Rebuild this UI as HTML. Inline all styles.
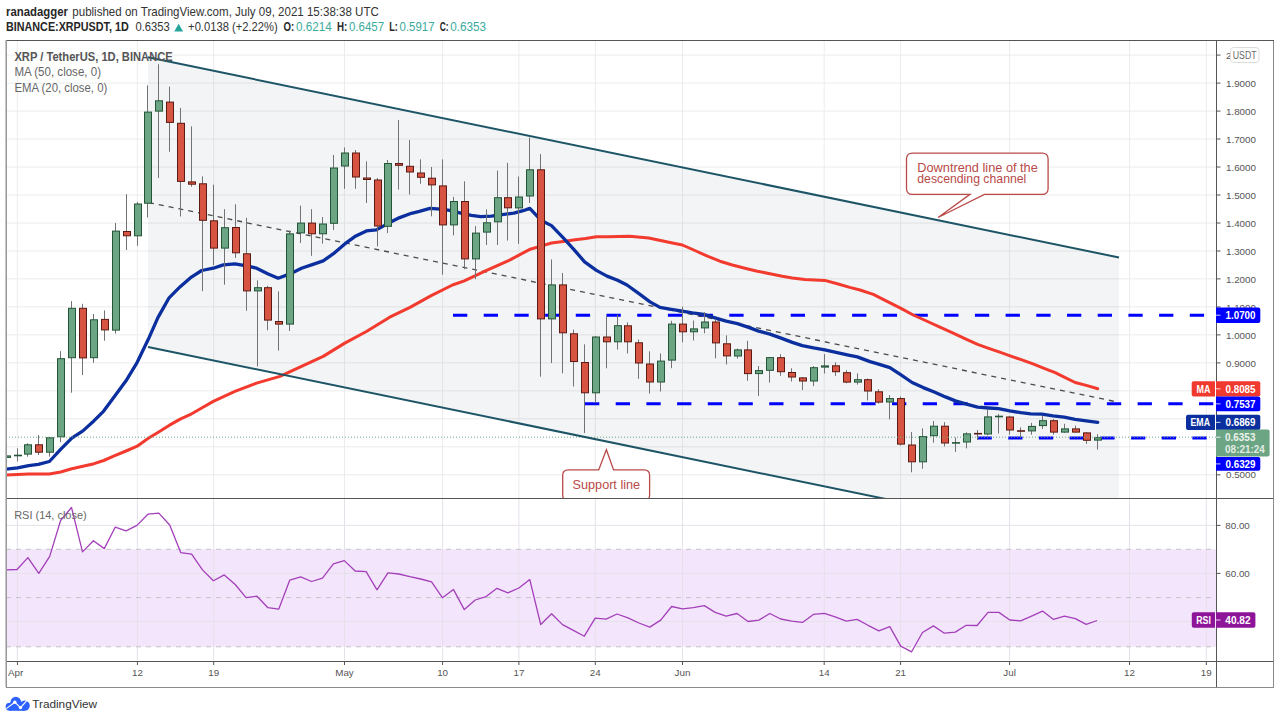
<!DOCTYPE html>
<html><head><meta charset="utf-8"><title>XRPUSDT chart</title>
<style>
html,body{margin:0;padding:0;background:#fff;}
body{width:1280px;height:721px;overflow:hidden;font-family:"Liberation Sans", sans-serif;}
svg{display:block}
text{font-family:"Liberation Sans", sans-serif;}
</style></head><body>
<svg width="1280" height="721" viewBox="0 0 1280 721">
<rect x="0" y="0" width="1280" height="721" fill="#ffffff"/>

<text x="6" y="15.6" font-size="12.2" font-weight="bold" fill="#262626" textLength="62" lengthAdjust="spacingAndGlyphs">ranadagger</text>
<text x="72.3" y="15.6" font-size="12.2" fill="#333" textLength="306.5" lengthAdjust="spacingAndGlyphs">published on TradingView.com, July 09, 2021 15:38:38 UTC</text>
<text x="6" y="31.3" font-size="12" font-weight="bold" fill="#262626" textLength="122.7" lengthAdjust="spacingAndGlyphs">BINANCE:XRPUSDT, 1D</text>
<text x="135.5" y="31.3" font-size="12" fill="#333" textLength="34.3" lengthAdjust="spacingAndGlyphs">0.6353</text>
<polygon points="174.2,31.5 183.1,31.5 178.65,23.8" fill="#26a69a"/>
<text x="188.1" y="31.3" font-size="12" fill="#333" textLength="89.6" lengthAdjust="spacingAndGlyphs">+0.0138 (+2.22%)</text>
<text x="283.6" y="31.3" font-size="12" font-weight="bold" fill="#262626" textLength="10.7" lengthAdjust="spacingAndGlyphs">O:</text>
<text x="296" y="31.3" font-size="12" fill="#3aab9c" textLength="35.7" lengthAdjust="spacingAndGlyphs">0.6214</text>
<text x="336.9" y="31.3" font-size="12" font-weight="bold" fill="#262626" textLength="10.3" lengthAdjust="spacingAndGlyphs">H:</text>
<text x="348.9" y="31.3" font-size="12" fill="#3aab9c" textLength="35.2" lengthAdjust="spacingAndGlyphs">0.6457</text>
<text x="389.3" y="31.3" font-size="12" font-weight="bold" fill="#262626" textLength="8.6" lengthAdjust="spacingAndGlyphs">L:</text>
<text x="399.6" y="31.3" font-size="12" fill="#3aab9c" textLength="34.9" lengthAdjust="spacingAndGlyphs">0.5917</text>
<text x="439.7" y="31.3" font-size="12" font-weight="bold" fill="#262626" textLength="8.9" lengthAdjust="spacingAndGlyphs">C:</text>
<text x="450.3" y="31.3" font-size="12" fill="#3aab9c" textLength="35.8" lengthAdjust="spacingAndGlyphs">0.6353</text>
<defs><clipPath id="pp"><rect x="6.5" y="40.5" width="1209.5" height="457.5"/></clipPath><clipPath id="rp"><rect x="6.5" y="498.5" width="1209.5" height="162"/></clipPath></defs>
<g clip-path="url(#pp)">
<line x1="6" y1="55.1" x2="1216" y2="55.1" stroke="#ececec" stroke-width="1"/>
<line x1="6" y1="83.1" x2="1216" y2="83.1" stroke="#ececec" stroke-width="1"/>
<line x1="6" y1="111.1" x2="1216" y2="111.1" stroke="#ececec" stroke-width="1"/>
<line x1="6" y1="139.0" x2="1216" y2="139.0" stroke="#ececec" stroke-width="1"/>
<line x1="6" y1="167.0" x2="1216" y2="167.0" stroke="#ececec" stroke-width="1"/>
<line x1="6" y1="195.0" x2="1216" y2="195.0" stroke="#ececec" stroke-width="1"/>
<line x1="6" y1="223.0" x2="1216" y2="223.0" stroke="#ececec" stroke-width="1"/>
<line x1="6" y1="251.0" x2="1216" y2="251.0" stroke="#ececec" stroke-width="1"/>
<line x1="6" y1="278.9" x2="1216" y2="278.9" stroke="#ececec" stroke-width="1"/>
<line x1="6" y1="306.9" x2="1216" y2="306.9" stroke="#ececec" stroke-width="1"/>
<line x1="6" y1="334.9" x2="1216" y2="334.9" stroke="#ececec" stroke-width="1"/>
<line x1="6" y1="362.9" x2="1216" y2="362.9" stroke="#ececec" stroke-width="1"/>
<line x1="6" y1="390.9" x2="1216" y2="390.9" stroke="#ececec" stroke-width="1"/>
<line x1="6" y1="418.8" x2="1216" y2="418.8" stroke="#ececec" stroke-width="1"/>
<line x1="6" y1="446.8" x2="1216" y2="446.8" stroke="#ececec" stroke-width="1"/>
<line x1="6" y1="474.8" x2="1216" y2="474.8" stroke="#ececec" stroke-width="1"/>
<line x1="17.4" y1="40" x2="17.4" y2="498" stroke="#ececec" stroke-width="1"/>
<line x1="137.4" y1="40" x2="137.4" y2="498" stroke="#ececec" stroke-width="1"/>
<line x1="213.7" y1="40" x2="213.7" y2="498" stroke="#ececec" stroke-width="1"/>
<line x1="344.5" y1="40" x2="344.5" y2="498" stroke="#ececec" stroke-width="1"/>
<line x1="442.6" y1="40" x2="442.6" y2="498" stroke="#ececec" stroke-width="1"/>
<line x1="518.9" y1="40" x2="518.9" y2="498" stroke="#ececec" stroke-width="1"/>
<line x1="595.3" y1="40" x2="595.3" y2="498" stroke="#ececec" stroke-width="1"/>
<line x1="682.5" y1="40" x2="682.5" y2="498" stroke="#ececec" stroke-width="1"/>
<line x1="824.2" y1="40" x2="824.2" y2="498" stroke="#ececec" stroke-width="1"/>
<line x1="900.6" y1="40" x2="900.6" y2="498" stroke="#ececec" stroke-width="1"/>
<line x1="1009.6" y1="40" x2="1009.6" y2="498" stroke="#ececec" stroke-width="1"/>
<line x1="1129.5" y1="40" x2="1129.5" y2="498" stroke="#ececec" stroke-width="1"/>
<line x1="1206.3" y1="40" x2="1206.3" y2="498" stroke="#ececec" stroke-width="1"/>
<polygon points="148,57.3 1119,257.5 1119,547.1 148,346.9" fill="#1e3c5a" fill-opacity="0.058"/>
<line x1="453" y1="315.2" x2="1216" y2="315.2" stroke="#0000ff" stroke-width="3" stroke-dasharray="14.3 16.4"/>
<line x1="585" y1="403.8" x2="1216" y2="403.8" stroke="#0000ff" stroke-width="3" stroke-dasharray="14.3 16.4"/>
<line x1="977.5" y1="438.0" x2="1216" y2="438.0" stroke="#0000ff" stroke-width="3" stroke-dasharray="14.3 16.4"/>
<line x1="149" y1="202.6" x2="1114" y2="401.3" stroke="#3a3a3a" stroke-width="1.3" stroke-dasharray="5 5" stroke-opacity="0.9"/>
<polyline points="6.0,474.9 28.7,473.9 49.4,473.9 60.6,472.0 71.8,468.8 82.9,466.3 94.1,463.7 103.7,460.5 114.8,455.7 126.0,451.0 137.2,446.2 148.3,438.2 157.9,432.5 169.1,425.4 180.2,419.1 190.0,414.7 201.7,408.0 213.3,401.4 234.9,391.4 256.6,383.1 279.9,376.4 301.5,366.4 323.2,356.4 344.8,343.1 366.4,331.5 389.7,317.2 410.0,307.4 431.2,295.6 452.5,285.0 464.3,280.8 485.5,270.9 509.1,260.3 530.3,249.2 540.9,246.1 551.5,243.0 563.3,241.4 575.1,239.7 585.7,238.6 596.4,236.7 608.2,236.7 629.4,236.2 648.7,238.0 670.0,242.5 682.4,245.0 694.9,250.5 707.4,256.2 719.9,261.2 732.4,265.0 744.9,268.2 757.4,271.2 769.9,273.7 782.3,276.2 792.3,277.9 804.8,279.4 824.8,280.4 837.3,283.7 849.8,287.4 860.0,290.0 873.3,294.4 886.6,301.1 901.0,308.4 913.2,315.0 926.5,321.0 939.9,327.2 953.2,333.2 965.4,338.8 977.6,344.3 988.7,348.3 999.8,352.1 1010.8,356.1 1021.9,359.9 1033.0,363.9 1044.1,368.3 1055.2,372.7 1065.2,377.6 1075.2,382.5 1086.3,385.4 1097.8,388.7" fill="none" stroke="#f33a2e" stroke-width="3" stroke-linejoin="round" stroke-linecap="round"/>
<polyline points="6.0,469.1 17.5,467.9 28.7,465.6 38.3,464.4 49.4,461.5 60.6,449.4 71.8,438.2 82.9,430.9 94.1,420.7 103.7,411.1 114.8,396.1 126.0,380.8 137.2,362.3 148.3,339.3 157.9,317.6 169.1,297.8 180.2,286.7 191.4,277.1 201.7,270.5 213.3,268.2 223.3,264.9 234.9,263.9 246.6,265.9 256.6,268.2 268.2,273.9 278.2,278.2 289.9,273.9 301.5,268.2 311.5,264.9 323.2,260.9 333.1,253.9 344.8,243.9 354.8,236.6 366.4,230.9 376.4,229.9 389.7,222.6 399.7,217.6 411.4,213.3 419.4,211.4 430.0,208.4 440.7,209.1 451.3,210.7 460.7,213.1 471.3,215.4 480.8,216.6 491.4,216.1 502.0,214.7 513.8,213.1 523.2,210.7 529.8,208.4 540.9,220.2 551.5,225.6 563.3,237.8 574.0,249.6 584.6,261.9 596.4,270.4 607.0,276.1 617.6,280.3 627.0,285.0 640.0,294.4 650.0,301.9 660.0,307.4 671.2,309.4 682.4,311.2 692.4,312.9 703.7,314.4 714.9,317.9 726.2,321.2 737.4,323.6 748.6,327.4 758.6,331.1 769.9,334.1 781.1,338.1 792.3,342.4 802.3,345.6 813.6,347.9 824.8,349.9 836.0,352.4 847.3,354.9 857.3,356.9 870.0,361.6 877.7,363.9 889.9,367.6 901.0,374.9 912.1,382.5 923.2,387.6 934.3,392.0 945.4,396.9 955.4,400.9 966.5,404.2 977.6,407.1 988.7,408.0 998.6,408.7 1009.7,410.9 1020.8,412.7 1030.8,413.8 1041.9,414.2 1053.0,415.8 1064.1,417.1 1075.2,419.3 1086.3,420.9 1097.8,422.4" fill="none" stroke="#0b2f9e" stroke-width="3.3" stroke-linejoin="round" stroke-linecap="round"/>
<line x1="6.5" y1="455.0" x2="6.5" y2="458.5" stroke="#737375" stroke-width="1"/>
<rect x="3.5" y="455.9" width="7" height="1.5" fill="#6ba583" stroke="#225437" stroke-width="1"/>
<line x1="17.5" y1="448.3" x2="17.5" y2="461.4" stroke="#737375" stroke-width="1"/>
<rect x="14" y="454.7" width="8" height="1.6" fill="#225437"/>
<line x1="27.5" y1="443.2" x2="27.5" y2="456.7" stroke="#737375" stroke-width="1"/>
<rect x="24.5" y="444.8" width="7" height="9.3" fill="#6ba583" stroke="#225437" stroke-width="1"/>
<line x1="38.5" y1="435.0" x2="38.5" y2="455.0" stroke="#737375" stroke-width="1"/>
<rect x="35.5" y="444.8" width="7" height="7.4" fill="#d75442" stroke="#5b1a13" stroke-width="1"/>
<line x1="49.5" y1="437.0" x2="49.5" y2="456.7" stroke="#737375" stroke-width="1"/>
<rect x="46.5" y="437.8" width="7" height="14.4" fill="#6ba583" stroke="#225437" stroke-width="1"/>
<line x1="60.5" y1="351.1" x2="60.5" y2="442.2" stroke="#737375" stroke-width="1"/>
<rect x="57.5" y="358.7" width="7" height="78.1" fill="#6ba583" stroke="#225437" stroke-width="1"/>
<line x1="71.5" y1="301.1" x2="71.5" y2="392.7" stroke="#737375" stroke-width="1"/>
<rect x="68.5" y="308.3" width="7" height="49.4" fill="#6ba583" stroke="#225437" stroke-width="1"/>
<line x1="82.5" y1="303.8" x2="82.5" y2="375.1" stroke="#737375" stroke-width="1"/>
<rect x="79.5" y="308.3" width="7" height="49.6" fill="#d75442" stroke="#5b1a13" stroke-width="1"/>
<line x1="93.5" y1="314.0" x2="93.5" y2="362.9" stroke="#737375" stroke-width="1"/>
<rect x="90.5" y="319.8" width="7" height="37.9" fill="#6ba583" stroke="#225437" stroke-width="1"/>
<line x1="104.5" y1="310.4" x2="104.5" y2="340.7" stroke="#737375" stroke-width="1"/>
<rect x="101.5" y="319.4" width="7" height="10.5" fill="#d75442" stroke="#5b1a13" stroke-width="1"/>
<line x1="115.5" y1="222.9" x2="115.5" y2="333.7" stroke="#737375" stroke-width="1"/>
<rect x="112.5" y="231.1" width="7" height="99.0" fill="#6ba583" stroke="#225437" stroke-width="1"/>
<line x1="126.5" y1="194.2" x2="126.5" y2="250.0" stroke="#737375" stroke-width="1"/>
<rect x="123.5" y="231.5" width="7" height="4.3" fill="#d75442" stroke="#5b1a13" stroke-width="1"/>
<line x1="137.5" y1="202.0" x2="137.5" y2="245.8" stroke="#737375" stroke-width="1"/>
<rect x="134.5" y="204.0" width="7" height="31.8" fill="#6ba583" stroke="#225437" stroke-width="1"/>
<line x1="147.5" y1="85.3" x2="147.5" y2="217.5" stroke="#737375" stroke-width="1"/>
<rect x="144.5" y="112.1" width="7" height="91.1" fill="#6ba583" stroke="#225437" stroke-width="1"/>
<line x1="158.5" y1="64.2" x2="158.5" y2="177.9" stroke="#737375" stroke-width="1"/>
<rect x="155.5" y="100.8" width="7" height="10.3" fill="#6ba583" stroke="#225437" stroke-width="1"/>
<line x1="169.5" y1="86.6" x2="169.5" y2="151.8" stroke="#737375" stroke-width="1"/>
<rect x="166.5" y="102.1" width="7" height="20.3" fill="#d75442" stroke="#5b1a13" stroke-width="1"/>
<line x1="180.5" y1="107.8" x2="180.5" y2="216.5" stroke="#737375" stroke-width="1"/>
<rect x="177.5" y="123.3" width="7" height="58.1" fill="#d75442" stroke="#5b1a13" stroke-width="1"/>
<line x1="191.5" y1="126.4" x2="191.5" y2="186.7" stroke="#737375" stroke-width="1"/>
<rect x="188.5" y="181.9" width="7" height="2.3" fill="#d75442" stroke="#5b1a13" stroke-width="1"/>
<line x1="202.5" y1="176.4" x2="202.5" y2="291.1" stroke="#737375" stroke-width="1"/>
<rect x="199.5" y="183.8" width="7" height="36.5" fill="#d75442" stroke="#5b1a13" stroke-width="1"/>
<line x1="213.5" y1="184.7" x2="213.5" y2="265.3" stroke="#737375" stroke-width="1"/>
<rect x="210.5" y="220.8" width="7" height="27.3" fill="#d75442" stroke="#5b1a13" stroke-width="1"/>
<line x1="224.5" y1="209.2" x2="224.5" y2="284.7" stroke="#737375" stroke-width="1"/>
<rect x="221.5" y="227.7" width="7" height="20.4" fill="#6ba583" stroke="#225437" stroke-width="1"/>
<line x1="235.5" y1="204.3" x2="235.5" y2="258.0" stroke="#737375" stroke-width="1"/>
<rect x="232.5" y="227.5" width="7" height="25.3" fill="#d75442" stroke="#5b1a13" stroke-width="1"/>
<line x1="246.5" y1="217.8" x2="246.5" y2="310.8" stroke="#737375" stroke-width="1"/>
<rect x="243.5" y="253.8" width="7" height="37.1" fill="#d75442" stroke="#5b1a13" stroke-width="1"/>
<line x1="257.5" y1="280.3" x2="257.5" y2="366.4" stroke="#737375" stroke-width="1"/>
<rect x="254.5" y="287.7" width="7" height="3.2" fill="#6ba583" stroke="#225437" stroke-width="1"/>
<line x1="267.5" y1="285.8" x2="267.5" y2="330.3" stroke="#737375" stroke-width="1"/>
<rect x="264.5" y="287.7" width="7" height="32.4" fill="#d75442" stroke="#5b1a13" stroke-width="1"/>
<line x1="278.5" y1="291.4" x2="278.5" y2="350.6" stroke="#737375" stroke-width="1"/>
<rect x="275.5" y="321.5" width="7" height="2.6" fill="#d75442" stroke="#5b1a13" stroke-width="1"/>
<line x1="289.5" y1="230.5" x2="289.5" y2="331.0" stroke="#737375" stroke-width="1"/>
<rect x="286.5" y="233.9" width="7" height="90.2" fill="#6ba583" stroke="#225437" stroke-width="1"/>
<line x1="300.5" y1="205.7" x2="300.5" y2="243.0" stroke="#737375" stroke-width="1"/>
<rect x="297.5" y="223.1" width="7" height="9.8" fill="#6ba583" stroke="#225437" stroke-width="1"/>
<line x1="311.5" y1="209.2" x2="311.5" y2="255.8" stroke="#737375" stroke-width="1"/>
<rect x="308.5" y="223.1" width="7" height="10.7" fill="#d75442" stroke="#5b1a13" stroke-width="1"/>
<line x1="322.5" y1="217.0" x2="322.5" y2="243.6" stroke="#737375" stroke-width="1"/>
<rect x="319.5" y="224.0" width="7" height="9.8" fill="#6ba583" stroke="#225437" stroke-width="1"/>
<line x1="333.5" y1="155.0" x2="333.5" y2="230.0" stroke="#737375" stroke-width="1"/>
<rect x="330.5" y="168.0" width="7" height="55.3" fill="#6ba583" stroke="#225437" stroke-width="1"/>
<line x1="344.5" y1="147.5" x2="344.5" y2="188.8" stroke="#737375" stroke-width="1"/>
<rect x="341.5" y="153.0" width="7" height="13.0" fill="#6ba583" stroke="#225437" stroke-width="1"/>
<line x1="355.5" y1="150.0" x2="355.5" y2="188.8" stroke="#737375" stroke-width="1"/>
<rect x="352.5" y="153.0" width="7" height="24.0" fill="#d75442" stroke="#5b1a13" stroke-width="1"/>
<line x1="366.5" y1="161.3" x2="366.5" y2="203.0" stroke="#737375" stroke-width="1"/>
<rect x="363.5" y="178.0" width="7" height="1.5" fill="#d75442" stroke="#5b1a13" stroke-width="1"/>
<line x1="377.5" y1="178.0" x2="377.5" y2="246.3" stroke="#737375" stroke-width="1"/>
<rect x="374.5" y="180.0" width="7" height="46.0" fill="#d75442" stroke="#5b1a13" stroke-width="1"/>
<line x1="387.5" y1="160.0" x2="387.5" y2="233.0" stroke="#737375" stroke-width="1"/>
<rect x="384.5" y="163.5" width="7" height="62.8" fill="#6ba583" stroke="#225437" stroke-width="1"/>
<line x1="398.5" y1="120.0" x2="398.5" y2="189.5" stroke="#737375" stroke-width="1"/>
<rect x="395.5" y="163.5" width="7" height="1.8" fill="#d75442" stroke="#5b1a13" stroke-width="1"/>
<line x1="409.5" y1="140.0" x2="409.5" y2="194.5" stroke="#737375" stroke-width="1"/>
<rect x="406.5" y="166.3" width="7" height="5.7" fill="#d75442" stroke="#5b1a13" stroke-width="1"/>
<line x1="420.5" y1="159.3" x2="420.5" y2="183.8" stroke="#737375" stroke-width="1"/>
<rect x="417.5" y="173.0" width="7" height="4.3" fill="#d75442" stroke="#5b1a13" stroke-width="1"/>
<line x1="431.5" y1="167.0" x2="431.5" y2="216.3" stroke="#737375" stroke-width="1"/>
<rect x="428.5" y="178.2" width="7" height="6.7" fill="#d75442" stroke="#5b1a13" stroke-width="1"/>
<line x1="442.5" y1="159.4" x2="442.5" y2="274.6" stroke="#737375" stroke-width="1"/>
<rect x="439.5" y="185.9" width="7" height="39.0" fill="#d75442" stroke="#5b1a13" stroke-width="1"/>
<line x1="453.5" y1="196.9" x2="453.5" y2="235.4" stroke="#737375" stroke-width="1"/>
<rect x="450.5" y="201.5" width="7" height="23.4" fill="#6ba583" stroke="#225437" stroke-width="1"/>
<line x1="464.5" y1="181.3" x2="464.5" y2="269.2" stroke="#737375" stroke-width="1"/>
<rect x="461.5" y="201.5" width="7" height="57.4" fill="#d75442" stroke="#5b1a13" stroke-width="1"/>
<line x1="475.5" y1="226.1" x2="475.5" y2="279.2" stroke="#737375" stroke-width="1"/>
<rect x="472.5" y="233.1" width="7" height="25.8" fill="#6ba583" stroke="#225437" stroke-width="1"/>
<line x1="486.5" y1="209.4" x2="486.5" y2="245.0" stroke="#737375" stroke-width="1"/>
<rect x="483.5" y="222.8" width="7" height="9.3" fill="#6ba583" stroke="#225437" stroke-width="1"/>
<line x1="497.5" y1="170.6" x2="497.5" y2="245.0" stroke="#737375" stroke-width="1"/>
<rect x="494.5" y="197.7" width="7" height="24.1" fill="#6ba583" stroke="#225437" stroke-width="1"/>
<line x1="507.5" y1="162.8" x2="507.5" y2="240.6" stroke="#737375" stroke-width="1"/>
<rect x="504.5" y="197.7" width="7" height="10.1" fill="#d75442" stroke="#5b1a13" stroke-width="1"/>
<line x1="518.5" y1="176.5" x2="518.5" y2="243.8" stroke="#737375" stroke-width="1"/>
<rect x="515.5" y="197.0" width="7" height="10.9" fill="#6ba583" stroke="#225437" stroke-width="1"/>
<line x1="529.5" y1="137.6" x2="529.5" y2="203.0" stroke="#737375" stroke-width="1"/>
<rect x="526.5" y="169.8" width="7" height="26.2" fill="#6ba583" stroke="#225437" stroke-width="1"/>
<line x1="540.5" y1="154.1" x2="540.5" y2="376.7" stroke="#737375" stroke-width="1"/>
<rect x="537.5" y="169.8" width="7" height="149.1" fill="#d75442" stroke="#5b1a13" stroke-width="1"/>
<line x1="551.5" y1="259.4" x2="551.5" y2="363.1" stroke="#737375" stroke-width="1"/>
<rect x="548.5" y="284.9" width="7" height="34.0" fill="#6ba583" stroke="#225437" stroke-width="1"/>
<line x1="562.5" y1="272.9" x2="562.5" y2="373.3" stroke="#737375" stroke-width="1"/>
<rect x="559.5" y="284.9" width="7" height="47.9" fill="#d75442" stroke="#5b1a13" stroke-width="1"/>
<line x1="573.5" y1="329.6" x2="573.5" y2="386.5" stroke="#737375" stroke-width="1"/>
<rect x="570.5" y="333.8" width="7" height="27.7" fill="#d75442" stroke="#5b1a13" stroke-width="1"/>
<line x1="584.5" y1="344.3" x2="584.5" y2="433.0" stroke="#737375" stroke-width="1"/>
<rect x="581.5" y="362.5" width="7" height="30.3" fill="#d75442" stroke="#5b1a13" stroke-width="1"/>
<line x1="595.5" y1="336.0" x2="595.5" y2="402.9" stroke="#737375" stroke-width="1"/>
<rect x="592.5" y="337.0" width="7" height="55.8" fill="#6ba583" stroke="#225437" stroke-width="1"/>
<line x1="606.5" y1="315.5" x2="606.5" y2="368.3" stroke="#737375" stroke-width="1"/>
<rect x="603.5" y="337.0" width="7" height="4.8" fill="#d75442" stroke="#5b1a13" stroke-width="1"/>
<line x1="617.5" y1="314.6" x2="617.5" y2="349.5" stroke="#737375" stroke-width="1"/>
<rect x="614.5" y="325.7" width="7" height="16.1" fill="#6ba583" stroke="#225437" stroke-width="1"/>
<line x1="627.5" y1="322.3" x2="627.5" y2="353.4" stroke="#737375" stroke-width="1"/>
<rect x="624.5" y="325.8" width="7" height="16.0" fill="#d75442" stroke="#5b1a13" stroke-width="1"/>
<line x1="638.5" y1="339.5" x2="638.5" y2="378.8" stroke="#737375" stroke-width="1"/>
<rect x="635.5" y="342.8" width="7" height="20.2" fill="#d75442" stroke="#5b1a13" stroke-width="1"/>
<line x1="649.5" y1="351.3" x2="649.5" y2="393.6" stroke="#737375" stroke-width="1"/>
<rect x="646.5" y="364.0" width="7" height="18.0" fill="#d75442" stroke="#5b1a13" stroke-width="1"/>
<line x1="660.5" y1="353.4" x2="660.5" y2="391.5" stroke="#737375" stroke-width="1"/>
<rect x="657.5" y="361.1" width="7" height="20.9" fill="#6ba583" stroke="#225437" stroke-width="1"/>
<line x1="671.5" y1="320.8" x2="671.5" y2="368.2" stroke="#737375" stroke-width="1"/>
<rect x="668.5" y="324.1" width="7" height="36.0" fill="#6ba583" stroke="#225437" stroke-width="1"/>
<line x1="682.5" y1="306.7" x2="682.5" y2="342.3" stroke="#737375" stroke-width="1"/>
<rect x="679.5" y="324.1" width="7" height="7.7" fill="#d75442" stroke="#5b1a13" stroke-width="1"/>
<line x1="693.5" y1="320.5" x2="693.5" y2="340.5" stroke="#737375" stroke-width="1"/>
<rect x="690.5" y="328.9" width="7" height="2.9" fill="#6ba583" stroke="#225437" stroke-width="1"/>
<line x1="704.5" y1="312.2" x2="704.5" y2="333.3" stroke="#737375" stroke-width="1"/>
<rect x="701.5" y="322.0" width="7" height="5.9" fill="#6ba583" stroke="#225437" stroke-width="1"/>
<line x1="715.5" y1="319.4" x2="715.5" y2="358.3" stroke="#737375" stroke-width="1"/>
<rect x="712.5" y="322.0" width="7" height="20.9" fill="#d75442" stroke="#5b1a13" stroke-width="1"/>
<line x1="726.5" y1="335.4" x2="726.5" y2="364.5" stroke="#737375" stroke-width="1"/>
<rect x="723.5" y="343.8" width="7" height="12.1" fill="#d75442" stroke="#5b1a13" stroke-width="1"/>
<line x1="737.5" y1="348.6" x2="737.5" y2="358.6" stroke="#737375" stroke-width="1"/>
<rect x="734.5" y="349.9" width="7" height="6.1" fill="#6ba583" stroke="#225437" stroke-width="1"/>
<line x1="747.5" y1="340.8" x2="747.5" y2="380.8" stroke="#737375" stroke-width="1"/>
<rect x="744.5" y="349.9" width="7" height="23.7" fill="#d75442" stroke="#5b1a13" stroke-width="1"/>
<line x1="758.5" y1="366.0" x2="758.5" y2="395.9" stroke="#737375" stroke-width="1"/>
<rect x="755.5" y="370.6" width="7" height="3.0" fill="#6ba583" stroke="#225437" stroke-width="1"/>
<line x1="769.5" y1="357.0" x2="769.5" y2="382.6" stroke="#737375" stroke-width="1"/>
<rect x="766.5" y="357.6" width="7" height="12.7" fill="#6ba583" stroke="#225437" stroke-width="1"/>
<line x1="780.5" y1="354.2" x2="780.5" y2="375.8" stroke="#737375" stroke-width="1"/>
<rect x="777.5" y="357.7" width="7" height="14.0" fill="#d75442" stroke="#5b1a13" stroke-width="1"/>
<line x1="791.5" y1="368.3" x2="791.5" y2="381.5" stroke="#737375" stroke-width="1"/>
<rect x="788.5" y="372.5" width="7" height="4.5" fill="#d75442" stroke="#5b1a13" stroke-width="1"/>
<line x1="802.5" y1="377.0" x2="802.5" y2="390.0" stroke="#737375" stroke-width="1"/>
<rect x="799.5" y="377.9" width="7" height="3.1" fill="#d75442" stroke="#5b1a13" stroke-width="1"/>
<line x1="813.5" y1="366.1" x2="813.5" y2="386.1" stroke="#737375" stroke-width="1"/>
<rect x="810.5" y="367.7" width="7" height="13.3" fill="#6ba583" stroke="#225437" stroke-width="1"/>
<line x1="824.5" y1="354.1" x2="824.5" y2="373.5" stroke="#737375" stroke-width="1"/>
<rect x="821.5" y="365.9" width="7" height="1.2" fill="#6ba583" stroke="#225437" stroke-width="1"/>
<line x1="835.5" y1="362.3" x2="835.5" y2="375.9" stroke="#737375" stroke-width="1"/>
<rect x="832.5" y="365.8" width="7" height="5.9" fill="#d75442" stroke="#5b1a13" stroke-width="1"/>
<line x1="846.5" y1="370.2" x2="846.5" y2="383.3" stroke="#737375" stroke-width="1"/>
<rect x="843.5" y="372.7" width="7" height="9.4" fill="#d75442" stroke="#5b1a13" stroke-width="1"/>
<line x1="857.5" y1="373.3" x2="857.5" y2="384.6" stroke="#737375" stroke-width="1"/>
<rect x="854.5" y="379.7" width="7" height="2.4" fill="#6ba583" stroke="#225437" stroke-width="1"/>
<line x1="867.5" y1="378.5" x2="867.5" y2="400.5" stroke="#737375" stroke-width="1"/>
<rect x="864.5" y="379.7" width="7" height="11.3" fill="#d75442" stroke="#5b1a13" stroke-width="1"/>
<line x1="878.5" y1="389.2" x2="878.5" y2="403.7" stroke="#737375" stroke-width="1"/>
<rect x="875.5" y="391.8" width="7" height="10.3" fill="#d75442" stroke="#5b1a13" stroke-width="1"/>
<line x1="889.5" y1="395.0" x2="889.5" y2="419.3" stroke="#737375" stroke-width="1"/>
<rect x="886.5" y="398.6" width="7" height="3.4" fill="#6ba583" stroke="#225437" stroke-width="1"/>
<line x1="900.5" y1="396.5" x2="900.5" y2="445.5" stroke="#737375" stroke-width="1"/>
<rect x="897.5" y="398.6" width="7" height="45.5" fill="#d75442" stroke="#5b1a13" stroke-width="1"/>
<line x1="911.5" y1="432.1" x2="911.5" y2="472.3" stroke="#737375" stroke-width="1"/>
<rect x="908.5" y="445.0" width="7" height="16.8" fill="#d75442" stroke="#5b1a13" stroke-width="1"/>
<line x1="922.5" y1="428.4" x2="922.5" y2="468.8" stroke="#737375" stroke-width="1"/>
<rect x="919.5" y="436.6" width="7" height="25.2" fill="#6ba583" stroke="#225437" stroke-width="1"/>
<line x1="933.5" y1="421.0" x2="933.5" y2="442.7" stroke="#737375" stroke-width="1"/>
<rect x="930.5" y="426.2" width="7" height="9.5" fill="#6ba583" stroke="#225437" stroke-width="1"/>
<line x1="944.5" y1="422.1" x2="944.5" y2="446.5" stroke="#737375" stroke-width="1"/>
<rect x="941.5" y="426.2" width="7" height="16.8" fill="#d75442" stroke="#5b1a13" stroke-width="1"/>
<line x1="955.5" y1="437.6" x2="955.5" y2="451.9" stroke="#737375" stroke-width="1"/>
<rect x="952" y="442.1" width="8" height="1.6" fill="#225437"/>
<line x1="966.5" y1="432.3" x2="966.5" y2="448.4" stroke="#737375" stroke-width="1"/>
<rect x="963.5" y="433.9" width="7" height="8.1" fill="#6ba583" stroke="#225437" stroke-width="1"/>
<line x1="977.5" y1="430.1" x2="977.5" y2="440.0" stroke="#737375" stroke-width="1"/>
<rect x="974" y="432.9" width="8" height="1.6" fill="#5b1a13"/>
<line x1="987.5" y1="409.1" x2="987.5" y2="435.4" stroke="#737375" stroke-width="1"/>
<rect x="984.5" y="416.9" width="7" height="17.1" fill="#6ba583" stroke="#225437" stroke-width="1"/>
<line x1="998.5" y1="414.1" x2="998.5" y2="433.5" stroke="#737375" stroke-width="1"/>
<rect x="995" y="415.7" width="8" height="1.6" fill="#225437"/>
<line x1="1009.5" y1="416.0" x2="1009.5" y2="434.7" stroke="#737375" stroke-width="1"/>
<rect x="1006.5" y="417.0" width="7" height="13.0" fill="#d75442" stroke="#5b1a13" stroke-width="1"/>
<line x1="1020.5" y1="427.4" x2="1020.5" y2="437.3" stroke="#737375" stroke-width="1"/>
<rect x="1017" y="430.2" width="8" height="1.6" fill="#5b1a13"/>
<line x1="1031.5" y1="422.8" x2="1031.5" y2="434.7" stroke="#737375" stroke-width="1"/>
<rect x="1028.5" y="426.4" width="7" height="4.5" fill="#6ba583" stroke="#225437" stroke-width="1"/>
<line x1="1042.5" y1="416.0" x2="1042.5" y2="429.0" stroke="#737375" stroke-width="1"/>
<rect x="1039.5" y="420.7" width="7" height="4.9" fill="#6ba583" stroke="#225437" stroke-width="1"/>
<line x1="1053.5" y1="419.1" x2="1053.5" y2="434.7" stroke="#737375" stroke-width="1"/>
<rect x="1050.5" y="420.7" width="7" height="11.4" fill="#d75442" stroke="#5b1a13" stroke-width="1"/>
<line x1="1064.5" y1="423.8" x2="1064.5" y2="432.8" stroke="#737375" stroke-width="1"/>
<rect x="1061.5" y="428.9" width="7" height="3.2" fill="#6ba583" stroke="#225437" stroke-width="1"/>
<line x1="1075.5" y1="425.6" x2="1075.5" y2="432.8" stroke="#737375" stroke-width="1"/>
<rect x="1072.5" y="428.9" width="7" height="3.2" fill="#d75442" stroke="#5b1a13" stroke-width="1"/>
<line x1="1086.5" y1="432.0" x2="1086.5" y2="443.9" stroke="#737375" stroke-width="1"/>
<rect x="1083.5" y="432.9" width="7" height="7.4" fill="#d75442" stroke="#5b1a13" stroke-width="1"/>
<line x1="1097.5" y1="434.2" x2="1097.5" y2="449.6" stroke="#737375" stroke-width="1"/>
<rect x="1094.5" y="437.7" width="7" height="2.4" fill="#6ba583" stroke="#225437" stroke-width="1"/>
<line x1="6" y1="437.2" x2="1216" y2="437.2" stroke="#6ba583" stroke-width="1" stroke-dasharray="1 2"/>
<line x1="148" y1="57.3" x2="1119" y2="257.5" stroke="#1d5567" stroke-width="2"/>
<line x1="148" y1="346.9" x2="1119" y2="547.1" stroke="#1d5567" stroke-width="2"/>
<path d="M912.5,153.1 H1042.1 Q1048.1,153.1 1048.1,159.1 V188.4 Q1048.1,194.4 1042.1,194.4 H984.4 L938.1,217.5 L970,194.4 H912.5 Q906.5,194.4 906.5,188.4 V159.1 Q906.5,153.1 912.5,153.1 Z" fill="#ffffff" stroke="#b94a48" stroke-width="1.3"/>
<text x="917.3" y="171.9" font-size="12.4" fill="#b94a48" textLength="120.5" lengthAdjust="spacingAndGlyphs">Downtrend line of the</text>
<text x="917.3" y="182.6" font-size="12.4" fill="#b94a48" textLength="109" lengthAdjust="spacingAndGlyphs">descending channel</text>
<path d="M568.2,469.9 H598.7 L606.4,449.7 L613.6,469.9 H644.1 Q649.6,469.9 649.6,475.4 V495 Q649.6,500.5 644.1,500.5 H568.2 Q562.7,500.5 562.7,495 V475.4 Q562.7,469.9 568.2,469.9 Z" fill="#ffffff" stroke="#b94a48" stroke-width="1.3"/>
<text x="572.6" y="488.6" font-size="12.4" fill="#b94a48" textLength="67.5" lengthAdjust="spacingAndGlyphs">Support line</text>
</g>
<text x="14.4" y="60.6" font-size="12.2" font-weight="bold" fill="#555" textLength="158.3" lengthAdjust="spacingAndGlyphs">XRP / TetherUS, 1D, BINANCE</text>
<text x="14.4" y="75.9" font-size="12" fill="#666" textLength="86.6" lengthAdjust="spacingAndGlyphs">MA (50, close, 0)</text>
<text x="14.4" y="91.5" font-size="12" fill="#666" textLength="92.9" lengthAdjust="spacingAndGlyphs">EMA (20, close, 0)</text>
<g clip-path="url(#rp)">
<rect x="6" y="549.3" width="1210" height="97.5" fill="#f3e6fc"/>
<line x1="6" y1="525.4" x2="1216" y2="525.4" stroke="#e6e0ea" stroke-width="1"/>
<line x1="6" y1="573.4" x2="1216" y2="573.4" stroke="#e6e0ea" stroke-width="1"/>
<line x1="6" y1="621.6" x2="1216" y2="621.6" stroke="#e6e0ea" stroke-width="1"/>
<line x1="17.4" y1="498" x2="17.4" y2="661" stroke="#e6e0ea" stroke-width="1"/>
<line x1="137.4" y1="498" x2="137.4" y2="661" stroke="#e6e0ea" stroke-width="1"/>
<line x1="213.7" y1="498" x2="213.7" y2="661" stroke="#e6e0ea" stroke-width="1"/>
<line x1="344.5" y1="498" x2="344.5" y2="661" stroke="#e6e0ea" stroke-width="1"/>
<line x1="442.6" y1="498" x2="442.6" y2="661" stroke="#e6e0ea" stroke-width="1"/>
<line x1="518.9" y1="498" x2="518.9" y2="661" stroke="#e6e0ea" stroke-width="1"/>
<line x1="595.3" y1="498" x2="595.3" y2="661" stroke="#e6e0ea" stroke-width="1"/>
<line x1="682.5" y1="498" x2="682.5" y2="661" stroke="#e6e0ea" stroke-width="1"/>
<line x1="824.2" y1="498" x2="824.2" y2="661" stroke="#e6e0ea" stroke-width="1"/>
<line x1="900.6" y1="498" x2="900.6" y2="661" stroke="#e6e0ea" stroke-width="1"/>
<line x1="1009.6" y1="498" x2="1009.6" y2="661" stroke="#e6e0ea" stroke-width="1"/>
<line x1="1129.5" y1="498" x2="1129.5" y2="661" stroke="#e6e0ea" stroke-width="1"/>
<line x1="1206.3" y1="498" x2="1206.3" y2="661" stroke="#e6e0ea" stroke-width="1"/>
<line x1="6" y1="549.3" x2="1216" y2="549.3" stroke="#c3c3c3" stroke-width="1" stroke-dasharray="5 5"/>
<line x1="6" y1="597.6" x2="1216" y2="597.6" stroke="#c3c3c3" stroke-width="1" stroke-dasharray="5 5"/>
<line x1="6" y1="646.8" x2="1216" y2="646.8" stroke="#c3c3c3" stroke-width="1" stroke-dasharray="5 5"/>
<polyline points="6.1,569.9 17.0,569.5 27.9,557.6 38.8,573.3 49.7,556.4 60.6,520.5 71.5,507.4 82.5,551.9 93.4,540.7 104.3,548.6 115.2,527.2 126.1,530.8 137.0,525.4 147.9,514.2 158.8,513.1 169.7,525.0 180.7,552.6 191.6,554.2 202.5,569.9 213.4,580.7 224.3,574.9 235.2,584.5 246.1,597.6 257.0,596.2 267.9,607.7 278.8,609.1 289.8,580.1 300.7,576.9 311.6,581.5 322.5,578.1 333.4,563.8 344.3,560.6 355.2,571.0 366.1,571.7 377.0,589.8 387.9,572.8 398.9,574.0 409.8,576.7 420.7,579.0 431.6,581.9 442.5,597.8 453.4,589.4 464.3,609.6 475.2,600.0 486.1,596.6 497.0,588.3 507.9,592.8 518.9,588.0 529.8,579.6 540.7,624.5 551.6,613.8 562.5,624.6 573.4,630.3 584.3,636.2 595.2,618.1 606.1,619.2 617.0,614.0 628.0,617.8 638.9,623.0 649.8,627.1 660.7,620.1 671.6,606.5 682.5,608.8 693.4,607.6 704.3,605.6 715.2,612.4 726.1,616.2 737.1,613.5 748.0,621.5 758.9,620.1 769.8,613.5 780.7,619.0 791.6,621.2 802.5,622.4 813.4,614.4 824.3,613.3 835.2,616.8 846.2,621.1 857.1,619.4 868.0,625.3 878.9,630.8 889.8,626.6 900.7,646.1 911.6,651.8 922.5,632.5 933.4,625.9 944.4,633.2 955.3,632.1 966.2,625.3 977.1,625.5 988.0,612.4 998.9,612.4 1009.8,620.0 1020.7,620.9 1031.6,616.1 1042.5,611.1 1053.5,619.4 1064.4,616.1 1075.3,618.7 1086.2,624.4 1097.1,620.5" fill="none" stroke="#a43fba" stroke-width="1.3" stroke-linejoin="round"/>
<text x="14.2" y="519" font-size="11.6" fill="#666" textLength="72.5" lengthAdjust="spacingAndGlyphs">RSI (14, close)</text>
</g>
<line x1="1216.5" y1="40" x2="1216.5" y2="688" stroke="#555555" stroke-width="1"/>
<line x1="6" y1="498.5" x2="1274" y2="498.5" stroke="#555555" stroke-width="1"/>
<line x1="6" y1="661.5" x2="1274" y2="661.5" stroke="#555555" stroke-width="1"/>
<rect x="6.5" y="40.5" width="1267" height="647" fill="none" stroke="#8a8a8a" stroke-width="1"/>
<line x1="6" y1="40.5" x2="1274" y2="40.5" stroke="#555" stroke-width="1"/>
<line x1="6.2" y1="40" x2="6.2" y2="687" stroke="#9a9a9a" stroke-width="1.5"/>
<line x1="1216" y1="55.1" x2="1220.5" y2="55.1" stroke="#555555" stroke-width="1"/>
<text x="1226" y="58.7" font-size="9.8" fill="#555">2</text>
<line x1="1216" y1="83.1" x2="1220.5" y2="83.1" stroke="#555555" stroke-width="1"/>
<text x="1226" y="86.7" font-size="9.8" fill="#555">1.9000</text>
<line x1="1216" y1="111.1" x2="1220.5" y2="111.1" stroke="#555555" stroke-width="1"/>
<text x="1226" y="114.7" font-size="9.8" fill="#555">1.8000</text>
<line x1="1216" y1="139.0" x2="1220.5" y2="139.0" stroke="#555555" stroke-width="1"/>
<text x="1226" y="142.6" font-size="9.8" fill="#555">1.7000</text>
<line x1="1216" y1="167.0" x2="1220.5" y2="167.0" stroke="#555555" stroke-width="1"/>
<text x="1226" y="170.6" font-size="9.8" fill="#555">1.6000</text>
<line x1="1216" y1="195.0" x2="1220.5" y2="195.0" stroke="#555555" stroke-width="1"/>
<text x="1226" y="198.6" font-size="9.8" fill="#555">1.5000</text>
<line x1="1216" y1="223.0" x2="1220.5" y2="223.0" stroke="#555555" stroke-width="1"/>
<text x="1226" y="226.6" font-size="9.8" fill="#555">1.4000</text>
<line x1="1216" y1="251.0" x2="1220.5" y2="251.0" stroke="#555555" stroke-width="1"/>
<text x="1226" y="254.6" font-size="9.8" fill="#555">1.3000</text>
<line x1="1216" y1="278.9" x2="1220.5" y2="278.9" stroke="#555555" stroke-width="1"/>
<text x="1226" y="282.5" font-size="9.8" fill="#555">1.2000</text>
<line x1="1216" y1="306.9" x2="1220.5" y2="306.9" stroke="#555555" stroke-width="1"/>
<text x="1226" y="310.5" font-size="9.8" fill="#555">1.1000</text>
<line x1="1216" y1="334.9" x2="1220.5" y2="334.9" stroke="#555555" stroke-width="1"/>
<text x="1226" y="338.5" font-size="9.8" fill="#555">1.0000</text>
<line x1="1216" y1="362.9" x2="1220.5" y2="362.9" stroke="#555555" stroke-width="1"/>
<text x="1226" y="366.5" font-size="9.8" fill="#555">0.9000</text>
<line x1="1216" y1="390.9" x2="1220.5" y2="390.9" stroke="#555555" stroke-width="1"/>
<text x="1226" y="394.5" font-size="9.8" fill="#555">0.8000</text>
<line x1="1216" y1="418.8" x2="1220.5" y2="418.8" stroke="#555555" stroke-width="1"/>
<text x="1226" y="422.4" font-size="9.8" fill="#555">0.7000</text>
<line x1="1216" y1="446.8" x2="1220.5" y2="446.8" stroke="#555555" stroke-width="1"/>
<text x="1226" y="450.4" font-size="9.8" fill="#555">0.6000</text>
<line x1="1216" y1="474.8" x2="1220.5" y2="474.8" stroke="#555555" stroke-width="1"/>
<text x="1226" y="478.4" font-size="9.8" fill="#555">0.5000</text>
<rect x="1230.5" y="47.5" width="28.5" height="15" rx="3" fill="#fff" stroke="#dcdcdc" stroke-width="1"/>
<text x="1232.8" y="58.8" font-size="10" fill="#6a6a6a" textLength="23.8" lengthAdjust="spacingAndGlyphs">USDT</text>
<path d="M1216,307.5 H1258.3 Q1260.3,307.5 1260.3,309.5 V320.9 Q1260.3,322.9 1258.3,322.9 H1216 Z" fill="#0000ff"/>
<line x1="1216" y1="315.2" x2="1220.5" y2="315.2" stroke="#fff" stroke-width="1" stroke-opacity="0.8"/>
<text x="1225.5" y="318.8" font-size="10.4" font-weight="bold" fill="#fff" textLength="30" lengthAdjust="spacingAndGlyphs">1.0700</text>
<path d="M1216,381.2 H1258.3 Q1260.3,381.2 1260.3,383.2 V394.5 Q1260.3,396.5 1258.3,396.5 H1216 Z" fill="#f0392f"/>
<line x1="1216" y1="388.85" x2="1220.5" y2="388.85" stroke="#fff" stroke-width="1" stroke-opacity="0.8"/>
<text x="1225.5" y="392.5" font-size="10.4" font-weight="bold" fill="#fff" textLength="30" lengthAdjust="spacingAndGlyphs">0.8085</text>
<path d="M1216,396.5 H1258.3 Q1260.3,396.5 1260.3,398.5 V409.2 Q1260.3,411.2 1258.3,411.2 H1216 Z" fill="#0000ff"/>
<line x1="1216" y1="403.85" x2="1220.5" y2="403.85" stroke="#fff" stroke-width="1" stroke-opacity="0.8"/>
<text x="1225.5" y="407.5" font-size="10.4" font-weight="bold" fill="#fff" textLength="30" lengthAdjust="spacingAndGlyphs">0.7537</text>
<path d="M1216,414.7 H1258.3 Q1260.3,414.7 1260.3,416.7 V428.0 Q1260.3,430.0 1258.3,430.0 H1216 Z" fill="#0b2f9e"/>
<line x1="1216" y1="422.35" x2="1220.5" y2="422.35" stroke="#fff" stroke-width="1" stroke-opacity="0.8"/>
<text x="1225.5" y="426.0" font-size="10.4" font-weight="bold" fill="#fff" textLength="30" lengthAdjust="spacingAndGlyphs">0.6869</text>
<path d="M1216,457.0 H1258.3 Q1260.3,457.0 1260.3,459.0 V468.8 Q1260.3,470.8 1258.3,470.8 H1216 Z" fill="#0000ff"/>
<line x1="1216" y1="463.9" x2="1220.5" y2="463.9" stroke="#fff" stroke-width="1" stroke-opacity="0.8"/>
<text x="1225.5" y="467.5" font-size="10.4" font-weight="bold" fill="#fff" textLength="30" lengthAdjust="spacingAndGlyphs">0.6329</text>
<path d="M1216,429.4 H1267.6 Q1269.6,429.4 1269.6,431.4 V454.4 Q1269.6,456.4 1267.6,456.4 H1216 Z" fill="#6ba583"/>
<line x1="1216" y1="437.2" x2="1220.5" y2="437.2" stroke="#eef" stroke-width="1"/>
<text x="1225.1" y="441.4" font-size="10.4" font-weight="bold" fill="#eef3ee" textLength="30.3" lengthAdjust="spacingAndGlyphs">0.6353</text>
<text x="1225.1" y="453.4" font-size="10.4" font-weight="bold" fill="#e2ebe4" textLength="39.7" lengthAdjust="spacingAndGlyphs">08:21:24</text>
<path d="M1193.7,381.2 H1215 V396.5 H1193.7 Q1191.7,396.5 1191.7,394.5 V383.2 Q1191.7,381.2 1193.7,381.2 Z" fill="#f0392f"/>
<text x="1196.5" y="392.6" font-size="10.4" font-weight="bold" fill="#fff" textLength="14" lengthAdjust="spacingAndGlyphs">MA</text>
<path d="M1188,414.7 H1215 V430 H1188 Q1186,430 1186,428 V416.7 Q1186,414.7 1188,414.7 Z" fill="#0b2f9e"/>
<text x="1190.5" y="426.1" font-size="10.4" font-weight="bold" fill="#fff" textLength="19.5" lengthAdjust="spacingAndGlyphs">EMA</text>
<line x1="1216" y1="525.4" x2="1220.5" y2="525.4" stroke="#555555" stroke-width="1"/>
<text x="1225.3" y="529.0" font-size="9.8" fill="#555">80.00</text>
<line x1="1216" y1="573.4" x2="1220.5" y2="573.4" stroke="#555555" stroke-width="1"/>
<text x="1225.3" y="577.0" font-size="9.8" fill="#555">60.00</text>
<path d="M1193.8,612.2 H1215 V627.8 H1193.8 Q1191.8,627.8 1191.8,625.8 V614.2 Q1191.8,612.2 1193.8,612.2 Z" fill="#8e1599"/>
<text x="1196.3" y="623.8" font-size="10.4" font-weight="bold" fill="#fff" textLength="14.5" lengthAdjust="spacingAndGlyphs">RSI</text>
<path d="M1216,612.2 H1253.4 Q1255.4,612.2 1255.4,614.2 V625.8 Q1255.4,627.8 1253.4,627.8 H1216 Z" fill="#8e1599"/>
<line x1="1216" y1="620" x2="1220.5" y2="620" stroke="#fff" stroke-width="1" stroke-opacity="0.8"/>
<text x="1225.3" y="623.8" font-size="10.4" font-weight="bold" fill="#fff" textLength="25.3" lengthAdjust="spacingAndGlyphs">40.82</text>
<line x1="17.4" y1="661" x2="17.4" y2="665" stroke="#555555" stroke-width="1"/>
<text x="8.0" y="676.3" font-size="9.8" fill="#555" text-anchor="start">Apr</text>
<line x1="137.4" y1="661" x2="137.4" y2="665" stroke="#555555" stroke-width="1"/>
<text x="137.4" y="676.3" font-size="9.8" fill="#555" text-anchor="middle">12</text>
<line x1="213.7" y1="661" x2="213.7" y2="665" stroke="#555555" stroke-width="1"/>
<text x="213.7" y="676.3" font-size="9.8" fill="#555" text-anchor="middle">19</text>
<line x1="344.5" y1="661" x2="344.5" y2="665" stroke="#555555" stroke-width="1"/>
<text x="344.5" y="676.3" font-size="9.8" fill="#555" text-anchor="middle">May</text>
<line x1="442.6" y1="661" x2="442.6" y2="665" stroke="#555555" stroke-width="1"/>
<text x="442.6" y="676.3" font-size="9.8" fill="#555" text-anchor="middle">10</text>
<line x1="518.9" y1="661" x2="518.9" y2="665" stroke="#555555" stroke-width="1"/>
<text x="518.9" y="676.3" font-size="9.8" fill="#555" text-anchor="middle">17</text>
<line x1="595.3" y1="661" x2="595.3" y2="665" stroke="#555555" stroke-width="1"/>
<text x="595.3" y="676.3" font-size="9.8" fill="#555" text-anchor="middle">24</text>
<line x1="682.5" y1="661" x2="682.5" y2="665" stroke="#555555" stroke-width="1"/>
<text x="682.5" y="676.3" font-size="9.8" fill="#555" text-anchor="middle">Jun</text>
<line x1="824.2" y1="661" x2="824.2" y2="665" stroke="#555555" stroke-width="1"/>
<text x="824.2" y="676.3" font-size="9.8" fill="#555" text-anchor="middle">14</text>
<line x1="900.6" y1="661" x2="900.6" y2="665" stroke="#555555" stroke-width="1"/>
<text x="900.6" y="676.3" font-size="9.8" fill="#555" text-anchor="middle">21</text>
<line x1="1009.6" y1="661" x2="1009.6" y2="665" stroke="#555555" stroke-width="1"/>
<text x="1009.6" y="676.3" font-size="9.8" fill="#555" text-anchor="middle">Jul</text>
<line x1="1129.5" y1="661" x2="1129.5" y2="665" stroke="#555555" stroke-width="1"/>
<text x="1129.5" y="676.3" font-size="9.8" fill="#555" text-anchor="middle">12</text>
<line x1="1206.3" y1="661" x2="1206.3" y2="665" stroke="#555555" stroke-width="1"/>
<text x="1206.3" y="676.3" font-size="9.8" fill="#555" text-anchor="middle">19</text>
<g fill="#2d62ff"><circle cx="9.6" cy="706.8" r="4.0"/><circle cx="15.8" cy="702.2" r="5.4"/><circle cx="24.6" cy="705.6" r="5.2"/><rect x="9.6" y="704" width="15" height="6.8"/></g><polyline points="6.3,708.6 14.8,702.2 20.5,707.6 26.8,700.6" fill="none" stroke="#fff" stroke-width="1.1"/><circle cx="14.8" cy="702.2" r="1.7" fill="#fff"/><circle cx="20.5" cy="707.6" r="1.7" fill="#fff"/>
<text x="32.2" y="708" font-size="11.8" fill="#333" textLength="64.9" lengthAdjust="spacingAndGlyphs">TradingView</text>
</svg></body></html>
